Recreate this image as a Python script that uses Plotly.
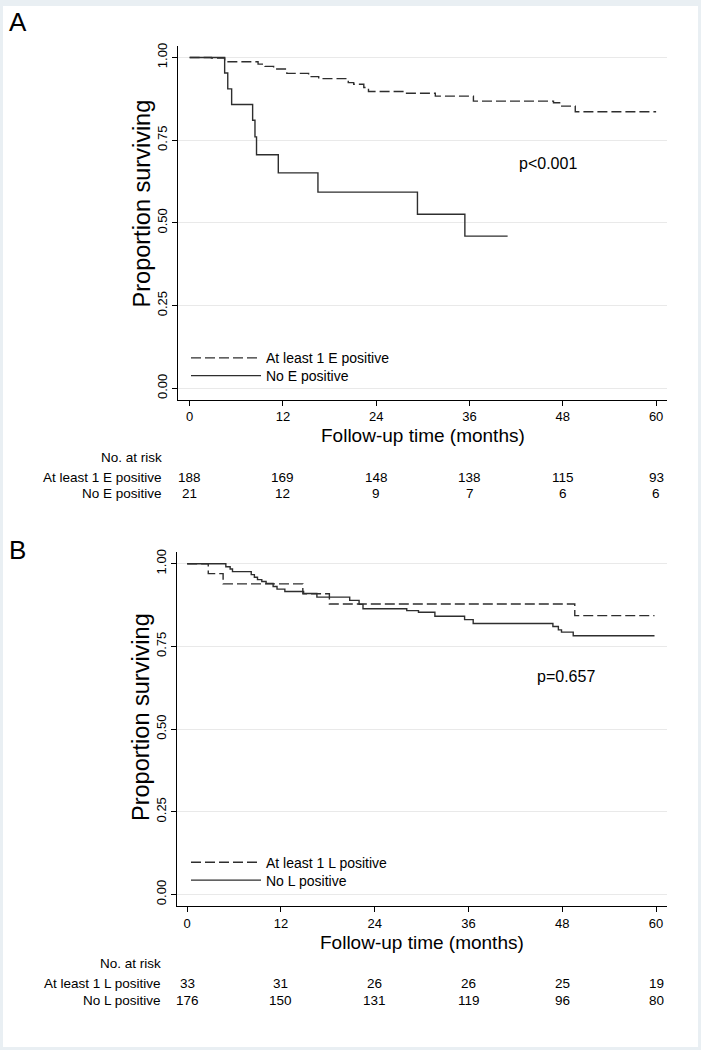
import plotly.graph_objects as go

# ---------------- data ----------------
months_ticks = [0, 12, 24, 36, 48, 60]

# Panel A
a_epos_time = [0, 2.8, 4.5, 8.8, 9.7, 10.8, 12.5, 15.3, 16.6, 20.4, 21.1, 22.4, 23.0, 27.9, 31.6, 36.5, 46.8, 47.7, 49.6, 60.0]
a_epos_surv = [1.0, 0.998, 0.987, 0.980, 0.973, 0.965, 0.952, 0.942, 0.936, 0.924, 0.919, 0.909, 0.897, 0.892, 0.883, 0.868, 0.863, 0.853, 0.836, 0.836]
a_noe_time = [0, 4.5, 4.9, 5.4, 8.1, 8.4, 8.6, 11.4, 16.5, 29.3, 35.4, 40.9]
a_noe_surv = [1.0, 0.953, 0.905, 0.858, 0.810, 0.760, 0.706, 0.651, 0.593, 0.526, 0.460, 0.460]
a_risk_epos = [188, 169, 148, 138, 115, 93]
a_risk_noe = [21, 12, 9, 7, 6, 6]

# Panel B
b_lpos_time = [0, 2.7, 4.6, 14.8, 18.2, 49.6, 59.8]
b_lpos_surv = [1.0, 0.970, 0.939, 0.909, 0.878, 0.843, 0.843]
b_nol_time = [0, 4.95, 5.5, 5.8, 8.2, 8.6, 9.0, 9.55, 10.1, 11.0, 11.5, 12.5, 14.9, 16.6, 20.8, 22.0, 22.5,
              28.1, 29.6, 31.7, 35.5, 36.6, 46.8, 47.5, 47.9, 49.4, 59.8]
b_nol_surv = [1.0, 0.991, 0.984, 0.976, 0.967, 0.959, 0.952, 0.946, 0.940, 0.931, 0.923, 0.916, 0.910, 0.899, 0.889, 0.877, 0.864,
              0.858, 0.853, 0.841, 0.831, 0.819, 0.810, 0.800, 0.793, 0.782, 0.782]
b_risk_lpos = [33, 31, 26, 26, 25, 19]
b_risk_nol = [176, 150, 131, 119, 96, 80]

# ---------------- figure ----------------
W, H = 701, 1050
FONT = "Liberation Sans, Arial, sans-serif"
LINE = "#2e2e2e"

def px(x):
    return x / W

def py(y):
    return 1 - y / H

fig = go.Figure()

dash = "10px,4px"
fig.add_trace(go.Scatter(x=a_epos_time, y=a_epos_surv, mode="lines", line=dict(shape="hv", color=LINE, width=1.4, dash=dash),
                         name="At least 1 E positive", xaxis="x", yaxis="y", legend="legend"))
fig.add_trace(go.Scatter(x=a_noe_time, y=a_noe_surv, mode="lines", line=dict(shape="hv", color=LINE, width=1.4),
                         name="No E positive", xaxis="x", yaxis="y", legend="legend2"))
fig.add_trace(go.Scatter(x=b_lpos_time, y=b_lpos_surv, mode="lines", line=dict(shape="hv", color=LINE, width=1.4, dash=dash),
                         name="At least 1 L positive", xaxis="x2", yaxis="y2", legend="legend3"))
fig.add_trace(go.Scatter(x=b_nol_time, y=b_nol_surv, mode="lines", line=dict(shape="hv", color=LINE, width=1.4),
                         name="No L positive", xaxis="x2", yaxis="y2", legend="legend4"))

tickfont = dict(family=FONT, size=13, color="#000000")
xaxis_common = dict(tickmode="array", tickvals=months_ticks, ticktext=[str(t) for t in months_ticks],
                    showline=True, linecolor="#000000", linewidth=1, ticks="outside", ticklen=5, tickcolor="#000000",
                    showgrid=False, zeroline=False, tickfont=tickfont, fixedrange=True)
yaxis_common = dict(tickmode="array", tickvals=[0, 0.25, 0.5, 0.75, 1.0],
                    ticktext=["0.00", "0.25", "0.50", "0.75", "1.00"], tickangle=-90,
                    showline=True, linecolor="#000000", linewidth=1, ticks="outside", ticklen=5, tickcolor="#000000",
                    showgrid=True, gridcolor="#e9e9e9", gridwidth=1, zeroline=False, tickfont=tickfont,
                    range=[-0.035, 1.035], fixedrange=True)

def leg(center_y):
    return dict(x=px(186), y=py(center_y - 16.5), xanchor="left", yanchor="top", bgcolor="rgba(0,0,0,0)",
                font=dict(family=FONT, size=14, color="#000000"), itemwidth=70)

fig.update_layout(
    width=W, height=H,
    margin=dict(l=0, r=0, t=0, b=0),
    paper_bgcolor="#e9eff3",
    plot_bgcolor="rgba(0,0,0,0)",
    font=dict(family=FONT, color="#000000"),
    xaxis=dict(domain=[px(178), px(667)], range=[-1.5, 61.4], anchor="y", **xaxis_common),
    yaxis=dict(domain=[py(398), py(43)], anchor="x", **yaxis_common),
    xaxis2=dict(domain=[px(177), px(667)], range=[-1.3, 61.4], anchor="y2", **xaxis_common),
    yaxis2=dict(domain=[py(905.6), py(550.7)], anchor="x2", **yaxis_common),
    legend=leg(356.7),
    legend2=leg(374.5),
    legend3=leg(862.5),
    legend4=leg(880.5),
    showlegend=True,
)

# white inner graph region
fig.add_shape(type="rect", xref="paper", yref="paper", x0=px(3), x1=px(698), y0=py(1047), y1=py(3),
              fillcolor="#ffffff", line=dict(width=0), layer="below")

ann = []
def text(x, y, s, size, xanchor="center", xref="paper", yanchor="middle", angle=0):
    ann.append(dict(x=x, y=y, xref=xref, yref="paper", text=s, showarrow=False, xanchor=xanchor, yanchor=yanchor,
                    textangle=angle, font=dict(family=FONT, size=size, color="#000000")))

# panel letters
text(px(7), py(19), "A", 26, xanchor="left")
text(px(7), py(549), "B", 26, xanchor="left")

# p-values
text(px(517), py(161), "p&lt;0.001", 16, xanchor="left")
text(px(535), py(675), "p=0.657", 16, xanchor="left")

# axis titles
text(30, py(434), "Follow-up time (months)", 19, xref="x")
text(30, py(942), "Follow-up time (months)", 19, xref="x2")
text(px(142), py(201), "Proportion surviving", 23.5, angle=-90)
text(px(141), py(716), "Proportion surviving", 23.5, angle=-90)

# risk tables
text(px(164), py(456), "No. at risk", 13.5, xanchor="right")
text(px(164), py(476), "At least 1 E positive", 13.5, xanchor="right")
text(px(164), py(492), "No E positive", 13.5, xanchor="right")
for t, v1, v2 in zip(months_ticks, a_risk_epos, a_risk_noe):
    text(t, py(476), str(v1), 13.5, xref="x")
    text(t, py(492), str(v2), 13.5, xref="x")

text(px(163), py(963), "No. at risk", 13.5, xanchor="right")
text(px(163), py(983), "At least 1 L positive", 13.5, xanchor="right")
text(px(163), py(1000), "No L positive", 13.5, xanchor="right")
for t, v1, v2 in zip(months_ticks, b_risk_lpos, b_risk_nol):
    text(t, py(983), str(v1), 13.5, xref="x2")
    text(t, py(1000), str(v2), 13.5, xref="x2")

fig.update_layout(annotations=ann)

fig.write_html("out.html", config={"displayModeBar": False},
               post_script="document.body.style.margin='0';document.body.style.padding='0';")
